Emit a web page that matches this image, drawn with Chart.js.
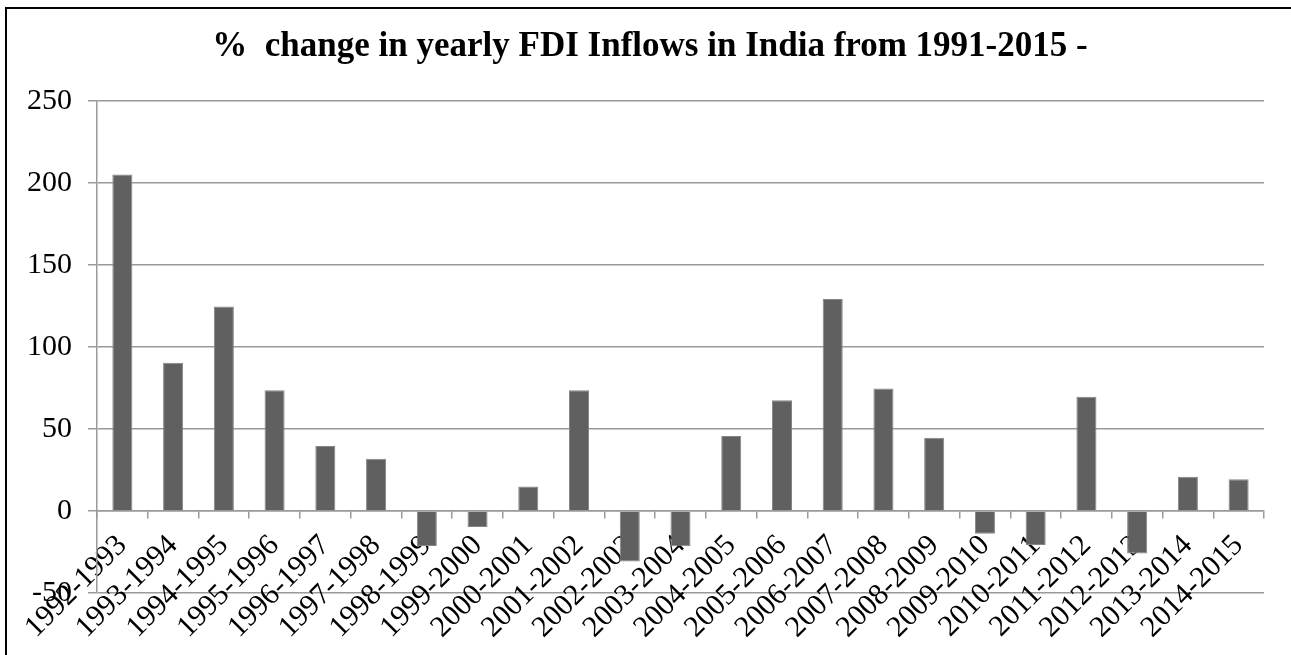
<!DOCTYPE html>
<html><head><meta charset="utf-8">
<script src="https://cdn.jsdelivr.net/npm/chart.js@4.4.0/dist/chart.umd.min.js"></script>
<style>
html,body{margin:0;padding:0;background:#fff;}
#wrap{position:relative;width:1291px;height:655px;overflow:hidden;background:#fff;}
#c{position:absolute;left:0;top:0;}
#frame{position:absolute;left:5px;top:7px;right:-10px;bottom:-10px;border-left:2px solid #000;border-top:2px solid #000;pointer-events:none;}
</style></head><body>
<div id="wrap"><canvas id="c" width="1291" height="655"></canvas><div id="frame"></div></div>
<script>
const titleText = '%  change in yearly FDI Inflows in India from 1991-2015 -';
const categories = ['1992-1993','1993-1994','1994-1995','1995-1996','1996-1997','1997-1998','1998-1999','1999-2000','2000-2001','2001-2002','2002-2003','2003-2004','2004-2005','2005-2006','2006-2007','2007-2008','2008-2009','2009-2010','2010-2011','2011-2012','2012-2013','2013-2014','2014-2015'];
const changePct = [205.2, 90.4, 124.7, 73.7, 39.6, 31.9, -21.3, -9.7, 14.9, 73.7, -30.8, -21.5, 45.7, 67.6, 129.3, 74.7, 44.7, -13.8, -20.7, 69.7, -25.9, 20.9, 19.3];
const yMin = -50, yMax = 250, yStep = 50;

const FONT = '"Liberation Serif", "Times New Roman", serif';
const GRID = '#9a9a9a';
const PAD_LEFT = 9;

new Chart(document.getElementById('c'), {
  type: 'bar',
  data: {
    labels: categories,
    datasets: [{
      data: changePct,
      backgroundColor: '#606060',
      borderColor: '#858585',
      borderWidth: 1,
      barPercentage: 0.395,
      categoryPercentage: 1.0
    }]
  },
  options: {
    responsive: false,
    devicePixelRatio: 1,
    animation: false,
    layout: { padding: { left: PAD_LEFT, right: 0, top: 0, bottom: 62 } },
    plugins: {
      legend: { display: false },
      tooltip: { enabled: false },
      title: {
        display: true,
        text: titleText,
        color: '#000',
        font: { family: FONT, size: 35, weight: 'bold', lineHeight: 1.2 },
        padding: { top: 26, bottom: 33 }
      }
    },
    scales: {
      x: {
        position: { y: 0 },
        z: 1,
        offset: true,
        grid: { display: true, drawOnChartArea: false, drawTicks: true, tickLength: 7, color: GRID, lineWidth: 1.5, offset: true },
        border: { display: true, color: GRID, width: 1.5 },
        ticks: {
          autoSkip: false, minRotation: 45, maxRotation: 45, padding: 10,
          color: '#000', font: { family: FONT, size: 30 }
        }
      },
      y: {
        min: yMin, max: yMax,
        afterFit: (s) => { s.width = 97 - PAD_LEFT; },
        grid: { color: GRID, lineWidth: 1.5, drawTicks: true, tickLength: 9 },
        border: { display: true, color: GRID, width: 1.5 },
        ticks: {
          stepSize: yStep, padding: 16,
          color: '#000', font: { family: FONT, size: 30 }
        }
      },
      yRightSpace: {
        position: 'right',
        display: true,
        afterFit: (s) => { s.width = 27; },
        grid: { display: false },
        border: { display: false },
        ticks: { display: false }
      }
    }
  }
});
</script>
</body></html>
